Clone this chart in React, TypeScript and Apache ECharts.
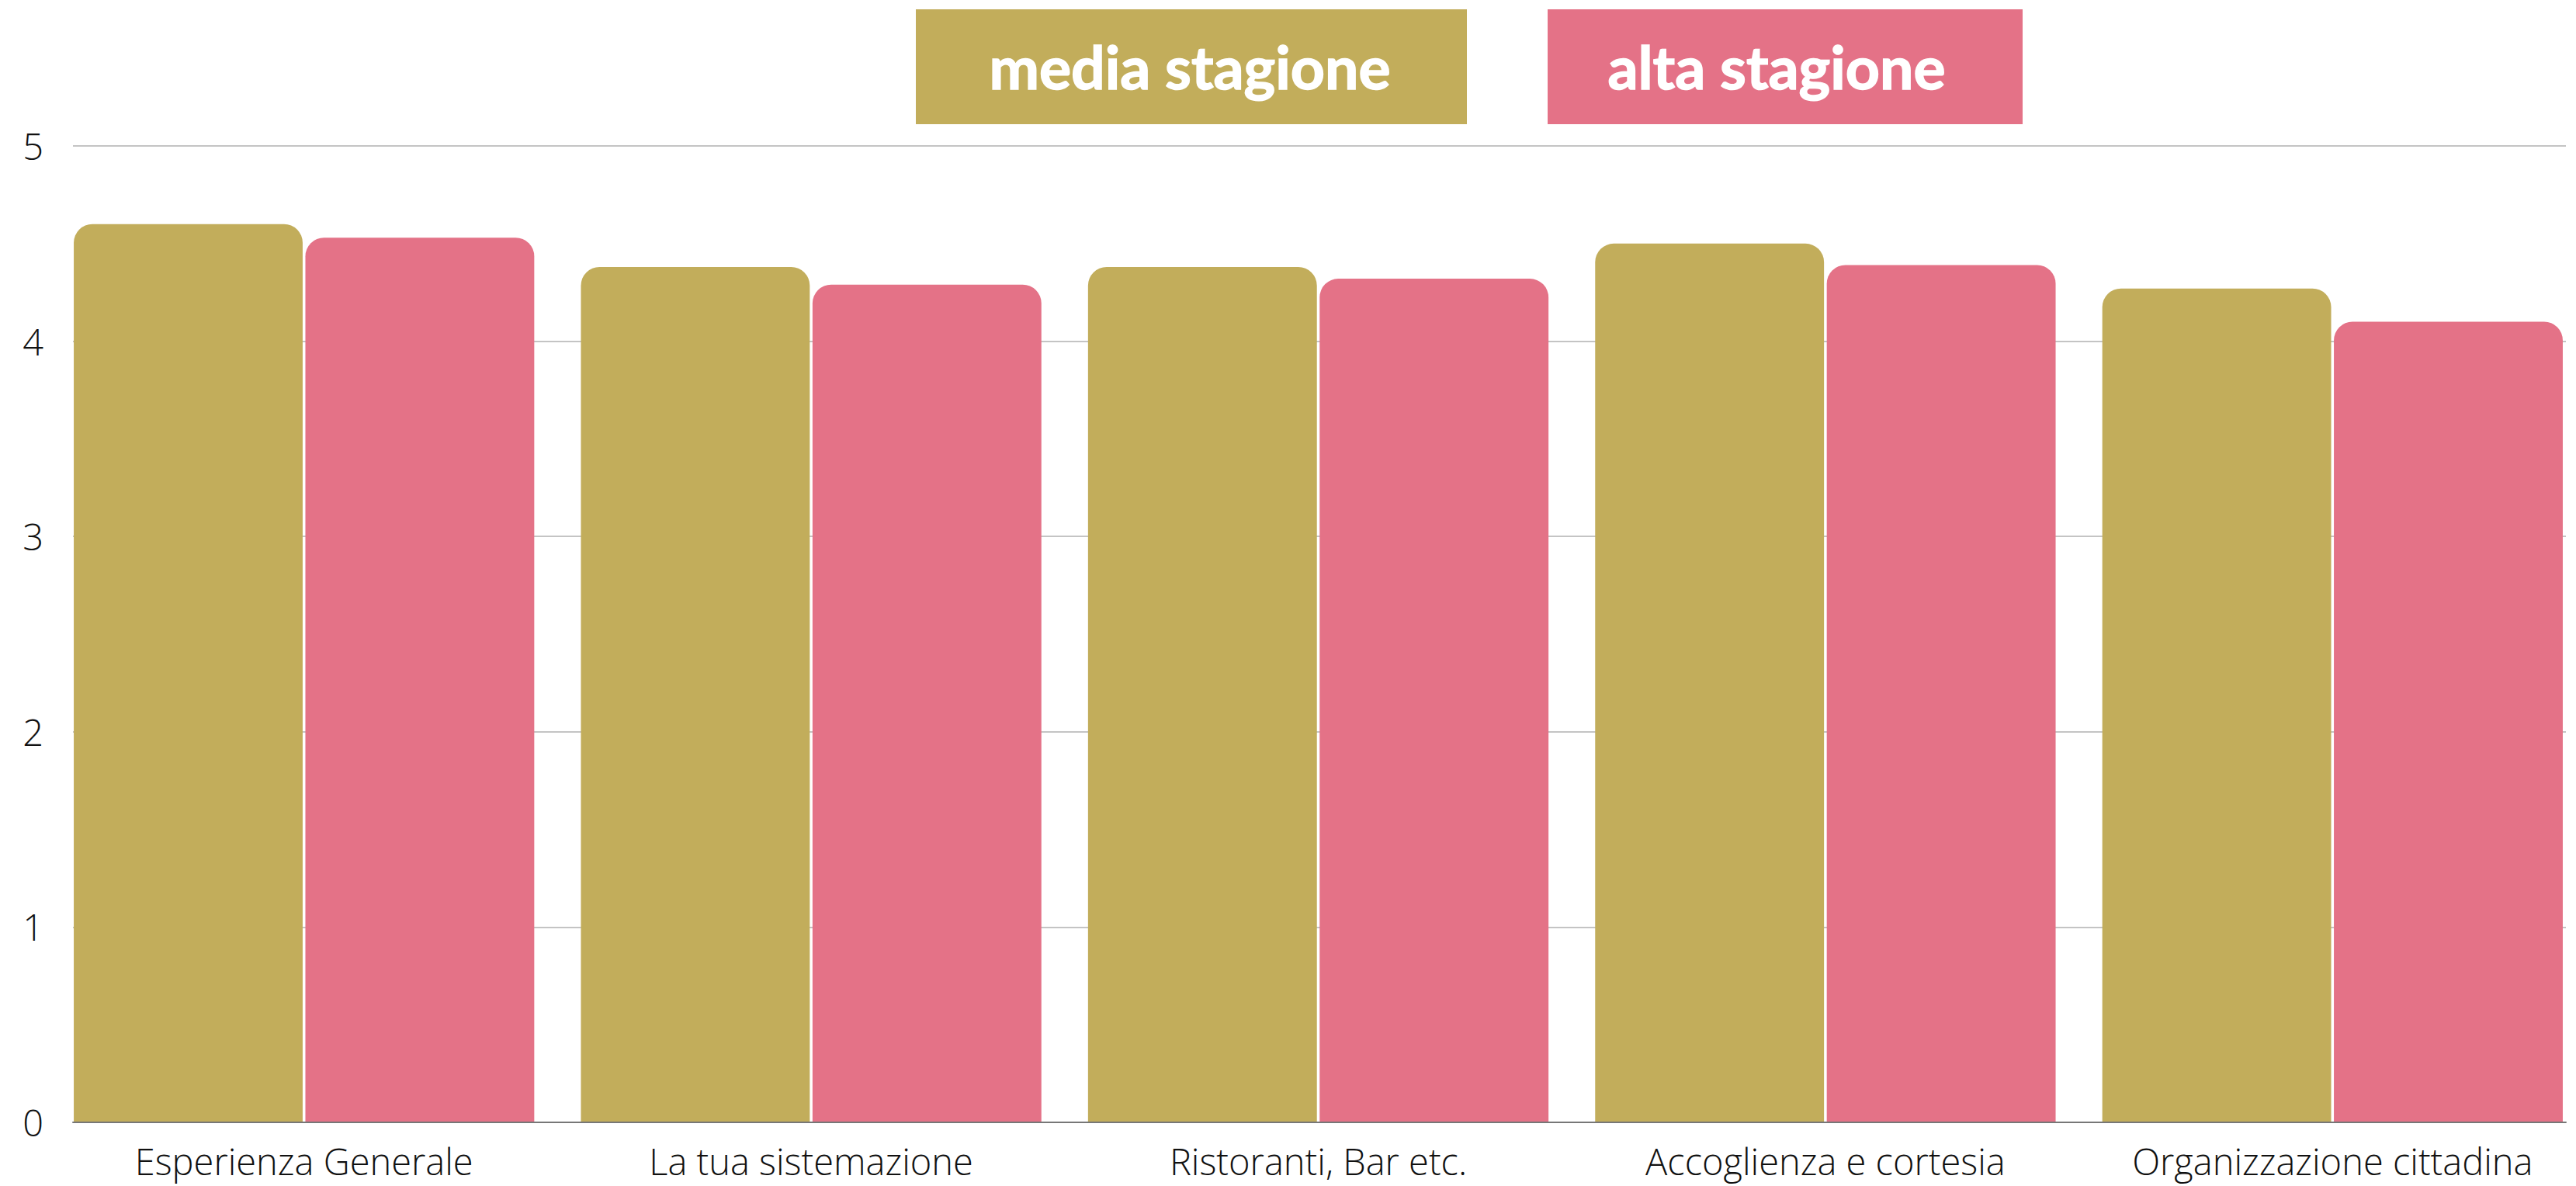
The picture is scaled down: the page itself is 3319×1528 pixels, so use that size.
import React, { useEffect, useRef } from "react";
import * as echarts from "echarts";

const categories = [
  "Esperienza Generale",
  "La tua sistemazione",
  "Ristoranti, Bar etc.",
  "Accoglienza e cortesia",
  "Organizzazione cittadina",
];
const seriesNames = ["media stagione", "alta stagione"];
const mediaStagione = [4.6, 4.38, 4.38, 4.5, 4.27];
const altaStagione = [4.53, 4.29, 4.32, 4.39, 4.1];
const yTicks = [0, 1, 2, 3, 4, 5];

const GOLD = "#C2AD5B";
const PINK = "#E47287";

export default function App() {
  const ref = useRef<HTMLDivElement>(null);
  useEffect(() => {
    document.body.style.margin = "0";
    const chart = echarts.init(ref.current!, null, { renderer: "svg" });
    const W = 3319;
    const gridTop = 188;
    const gridBottom = 1528 - 1446;
    const legendText = (text: string, x: number) => ({
      type: "text",
      x,
      y: 85,
      style: {
        text,
        fill: "#ffffff",
        stroke: "#ffffff",
        lineWidth: 1.5,
        font: "bold 77px Lato",
        align: "center",
        verticalAlign: "middle",
      },
    });
    const option: any = {
      animation: false,
      backgroundColor: "#ffffff",
      grid: [
        { left: 65, right: W - 3332, top: gridTop, bottom: gridBottom, outerBoundsMode: "none" },
        { left: 94, right: W - 3306, top: gridTop, bottom: gridBottom, outerBoundsMode: "none" },
      ],
      xAxis: [
        {
          gridIndex: 0,
          type: "category",
          data: categories,
          axisLine: { show: false },
          axisTick: { show: false },
          axisLabel: {
            show: true,
            margin: 26,
            fontFamily: "Open Sans",
            fontWeight: 300,
            fontSize: 47,
            color: "#111111",
            interval: 0,
          },
        },
        {
          gridIndex: 1,
          type: "category",
          data: categories,
          z: 5,
          axisLine: { show: true, lineStyle: { color: "#777777", width: 2 } },
          axisTick: { show: false },
          axisLabel: { show: false },
        },
      ],
      yAxis: [
        { gridIndex: 0, type: "value", min: 0, max: 5, show: false },
        {
          gridIndex: 1,
          type: "value",
          min: yTicks[0],
          max: yTicks[yTicks.length - 1],
          interval: 1,
          axisLine: { show: false },
          axisTick: { show: false },
          splitLine: { show: true, lineStyle: { color: "#c4c4c4", width: 2 } },
          axisLabel: {
            margin: 38,
            fontFamily: "Open Sans",
            fontWeight: 300,
            fontSize: 47,
            color: "#111111",
          },
        },
      ],
      series: [
        {
          name: seriesNames[0],
          type: "bar",
          xAxisIndex: 0,
          yAxisIndex: 0,
          data: mediaStagione,
          barCategoryGap: "9.2%",
          barGap: "1.2%",
          itemStyle: { color: GOLD, borderRadius: [24, 24, 0, 0] },
        },
        {
          name: seriesNames[1],
          type: "bar",
          xAxisIndex: 0,
          yAxisIndex: 0,
          data: altaStagione,
          barCategoryGap: "9.2%",
          barGap: "1.2%",
          itemStyle: { color: PINK, borderRadius: [24, 24, 0, 0] },
        },
      ],
      graphic: [
        { type: "rect", shape: { x: 1180, y: 12, width: 710, height: 148 }, style: { fill: GOLD } },
        legendText(seriesNames[0], 1533),
        { type: "rect", shape: { x: 1994, y: 12, width: 612, height: 148 }, style: { fill: PINK } },
        legendText(seriesNames[1], 2289),
      ],
    };
    chart.setOption(option);
    return () => chart.dispose();
  }, []);
  return <div ref={ref} style={{ width: 3319, height: 1528 }} />;
}
